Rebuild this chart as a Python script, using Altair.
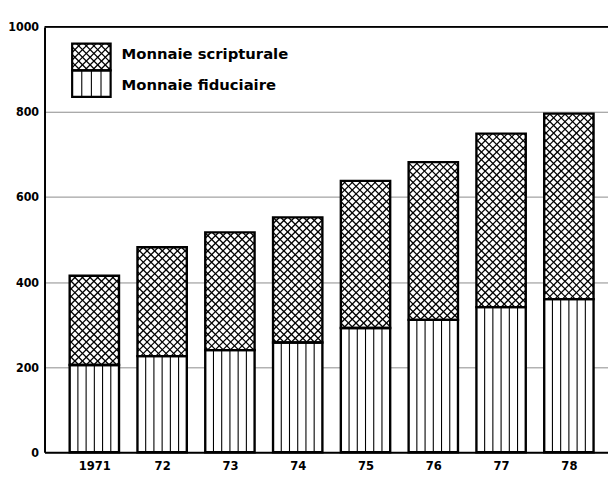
import altair as alt
import pandas as pd

# ---- data ----
years = ["1971", "72", "73", "74", "75", "76", "77", "78"]
fiduciaire = [205, 226, 240, 258, 292, 311, 341, 360]
scripturale = [210, 256, 277, 294, 346, 371, 408, 436]
y_ticks = [0, 200, 400, 600, 800, 1000]
legend_labels = ["Monnaie scripturale", "Monnaie fiduciaire"]

# ---- layout ----
W, H = 571, 431
XMIN, XMAX = -0.735, 7.577
SX = W / (XMAX - XMIN)
SY = H / 1000.0
HALF = 0.364
HATCH = 7.7
LABEL_FONT = "Liberation Sans Narrow, DejaVu Sans Condensed, sans-serif"

xscale = alt.Scale(domain=[XMIN, XMAX], nice=False, zero=False)
yscale = alt.Scale(domain=[0, 1000], nice=False)
xaxis = alt.Axis(values=list(range(len(years))),
                 labelExpr="[" + ",".join("'%s'" % y for y in years) + "][datum.value]",
                 ticks=False, grid=False, domainColor="black", domainWidth=2,
                 labelFont=LABEL_FONT, labelFontSize=13, labelFontWeight="bold",
                 labelColor="black", labelPadding=8, title=None)
yaxis = alt.Axis(values=y_ticks, format="d", ticks=False, grid=True, gridColor="#8a8a8a", gridWidth=1,
                 domainColor="black", domainWidth=2,
                 labelFont=LABEL_FONT, labelFontSize=12.5, labelFontWeight="bold",
                 labelColor="black", labelPadding=6, title=None)


def X(f):
    return alt.X(f, type="quantitative", scale=xscale, axis=xaxis)


def Y(f):
    return alt.Y(f, type="quantitative", scale=yscale, axis=yaxis)


# ---- bars ----
rows = []
for i, (yr, f, s) in enumerate(zip(years, fiduciaire, scripturale)):
    rows.append(dict(year=yr, series=legend_labels[1], x0=i - HALF, x1=i + HALF, y0=0, y1=f))
    rows.append(dict(year=yr, series=legend_labels[0], x0=i - HALF, x1=i + HALF, y0=f, y1=f + s))
bars = pd.DataFrame(rows)


def diag(xl, xr, yb, yt, step):
    """crosshatch segments inside a rectangle given in pixel units"""
    import math
    segs = []
    k0 = math.floor((yb - xr) / step)
    k1 = math.ceil((yt - xl) / step)
    for k in range(k0, k1 + 1):
        c = k * step
        xs, xe = max(xl, yb - c), min(xr, yt - c)
        if xe - xs > 0.3:
            segs.append((xs, xs + c, xe, xe + c))
    k0 = math.floor((yb + xl) / step)
    k1 = math.ceil((yt + xr) / step)
    for k in range(k0, k1 + 1):
        c = k * step
        xs, xe = max(xl, c - yt), min(xr, c - yb)
        if xe - xs > 0.3:
            segs.append((xs, c - xs, xe, c - xe))
    return segs


hatch_rows = []
vert_rows = []
for i, (f, s) in enumerate(zip(fiduciaire, scripturale)):
    xl = (i - HALF - XMIN) * SX
    xr = (i + HALF - XMIN) * SX
    for (a, b, c, d) in diag(xl, xr, f * SY, (f + s) * SY, HATCH):
        hatch_rows.append(dict(x=a / SX + XMIN, y=b / SY, x2=c / SX + XMIN, y2=d / SY))
    for k in range(1, 6):
        vert_rows.append(dict(x=i - HALF + 2 * HALF * k / 6.0, y=0, y2=f))
hatch = pd.DataFrame(hatch_rows)
verts = pd.DataFrame(vert_rows)

base_fill = alt.Chart(bars).mark_rect(fill="white", stroke=None).encode(
    x=X("x0"), x2="x1", y=Y("y0"), y2="y1")
cross = alt.Chart(hatch).mark_rule(color="black", strokeWidth=1.3).encode(
    x=X("x"), x2="x2", y=Y("y"), y2="y2")
vlines = alt.Chart(verts).mark_rule(color="black", strokeWidth=1.1).encode(
    x=X("x"), y=Y("y"), y2="y2")
outline = alt.Chart(bars).mark_rect(fillOpacity=0, stroke="black", strokeWidth=2.4).encode(
    x=X("x0"), x2="x1", y=Y("y0"), y2="y1")
top_line = alt.Chart(pd.DataFrame({"v": [1000]})).mark_rule(color="black", strokeWidth=2).encode(
    y=Y("v"))

# ---- legend (pixel space) ----
LX0, LX1, LY0, LYM, LY1 = 28, 67, 17, 44, 71
leg_box = pd.DataFrame([
    dict(x=LX0, x2=LX1, y=LY0, y2=LYM),
    dict(x=LX0, x2=LX1, y=LYM, y2=LY1),
])
leg_hatch = pd.DataFrame([dict(x=a, y=b, x2=c, y2=d)
                          for (a, b, c, d) in diag(LX0, LX1, LY0, LYM, HATCH)])
leg_vert = pd.DataFrame([dict(x=LX0 + (LX1 - LX0) * k / 4.0, y=LYM, y2=LY1) for k in range(1, 4)])
leg_text = pd.DataFrame({"label": legend_labels, "x": [78, 78], "y": [27.5, 59]})

PX = lambda f: alt.X(f, type="quantitative", scale=None)
PY = lambda f: alt.Y(f, type="quantitative", scale=None)

lg_fill = alt.Chart(leg_box).mark_rect(fill="white").encode(x=PX("x"), x2="x2", y=PY("y"), y2="y2")
lg_cross = alt.Chart(leg_hatch).mark_rule(color="black", strokeWidth=1.3).encode(
    x=PX("x"), x2="x2", y=PY("y"), y2="y2")
lg_vert = alt.Chart(leg_vert).mark_rule(color="black", strokeWidth=1.1).encode(
    x=PX("x"), y=PY("y"), y2="y2")
lg_out = alt.Chart(leg_box).mark_rect(fillOpacity=0, stroke="black", strokeWidth=2.2).encode(
    x=PX("x"), x2="x2", y=PY("y"), y2="y2")
lg_txt = alt.Chart(leg_text).mark_text(align="left", baseline="middle", font="DejaVu Sans, sans-serif",
                                       fontSize=15, fontWeight="bold", color="black").encode(
    x=PX("x"), y=PY("y"), text="label:N")

chart = alt.layer(
    base_fill, cross, vlines, outline, top_line,
    lg_fill, lg_cross, lg_vert, lg_out, lg_txt
).properties(
    width=W, height=H,
    padding={"left": 37, "top": 16, "right": 0, "bottom": 23},
    autosize=alt.AutoSizeParams(type="none"),
    background="white",
).configure_view(stroke=None)

chart.save("out.html", embed_options={"renderer": "svg", "actions": False})
